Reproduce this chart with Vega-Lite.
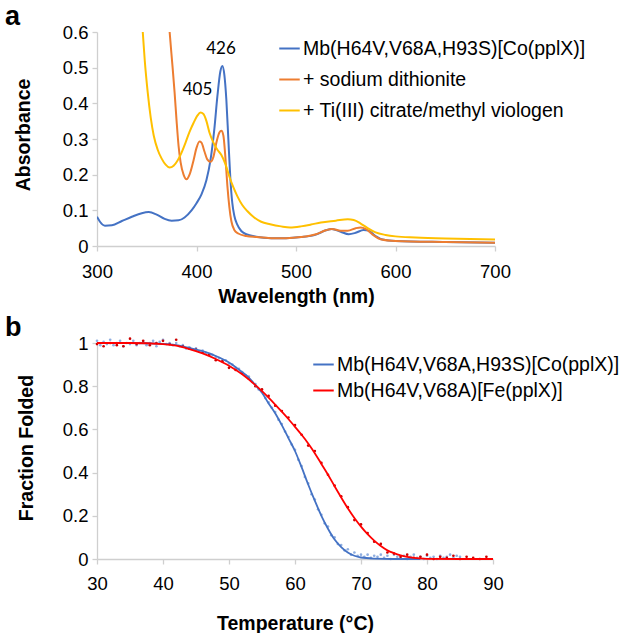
{
"$schema": "https://vega.github.io/schema/vega-lite/v6.json",
"background": "white",
"padding": {"left": 5, "top": 3, "right": 0, "bottom": 0},
"bounds": "flush",
"spacing": 97,
"resolve": {"scale": {"color": "independent"}, "legend": {"color": "independent"}},
"config": {
  "font": "Liberation Sans",
  "view": {"stroke": null},
  "axis": {"grid": false, "domainColor": "#CFCFCF", "tickColor": "#CFCFCF", "domainWidth": 1.3, "tickWidth": 1.3, "tickSize": 5, "labelFlush": false, "labelOverlap": false,
    "labelFont": "Liberation Sans", "labelFontSize": 18.5, "labelColor": "#000",
    "titleFont": "Liberation Sans", "titleFontSize": 19.5, "titleFontWeight": "bold", "titleColor": "#000"},
  "legend": {"title": null, "orient": "none", "symbolType": "stroke", "symbolSize": 420, "symbolStrokeWidth": 2, "labelFont": "Liberation Sans", "labelFontSize": 19.5, "labelColor": "#000", "labelOffset": 2, "padding": 0, "labelLimit": 400}
},
"datasets": {
  "spectra": [
    {"s":"Mb(H64V,V68A,H93S)[Co(pplX)]","w":300,"a":0.082},{"s":"Mb(H64V,V68A,H93S)[Co(pplX)]","w":303,"a":0.068},{"s":"Mb(H64V,V68A,H93S)[Co(pplX)]","w":308,"a":0.057},{"s":"Mb(H64V,V68A,H93S)[Co(pplX)]","w":315,"a":0.058},{"s":"Mb(H64V,V68A,H93S)[Co(pplX)]","w":325,"a":0.07},{"s":"Mb(H64V,V68A,H93S)[Co(pplX)]","w":335,"a":0.082},{"s":"Mb(H64V,V68A,H93S)[Co(pplX)]","w":345,"a":0.092},{"s":"Mb(H64V,V68A,H93S)[Co(pplX)]","w":352,"a":0.095},{"s":"Mb(H64V,V68A,H93S)[Co(pplX)]","w":360,"a":0.088},{"s":"Mb(H64V,V68A,H93S)[Co(pplX)]","w":368,"a":0.076},{"s":"Mb(H64V,V68A,H93S)[Co(pplX)]","w":375,"a":0.071},{"s":"Mb(H64V,V68A,H93S)[Co(pplX)]","w":382,"a":0.072},{"s":"Mb(H64V,V68A,H93S)[Co(pplX)]","w":388,"a":0.08},{"s":"Mb(H64V,V68A,H93S)[Co(pplX)]","w":395,"a":0.1},{"s":"Mb(H64V,V68A,H93S)[Co(pplX)]","w":400,"a":0.12},{"s":"Mb(H64V,V68A,H93S)[Co(pplX)]","w":405,"a":0.145},{"s":"Mb(H64V,V68A,H93S)[Co(pplX)]","w":410,"a":0.185},{"s":"Mb(H64V,V68A,H93S)[Co(pplX)]","w":414,"a":0.24},{"s":"Mb(H64V,V68A,H93S)[Co(pplX)]","w":418,"a":0.33},{"s":"Mb(H64V,V68A,H93S)[Co(pplX)]","w":421,"a":0.42},{"s":"Mb(H64V,V68A,H93S)[Co(pplX)]","w":424,"a":0.49},{"s":"Mb(H64V,V68A,H93S)[Co(pplX)]","w":426,"a":0.505},{"s":"Mb(H64V,V68A,H93S)[Co(pplX)]","w":428,"a":0.48},{"s":"Mb(H64V,V68A,H93S)[Co(pplX)]","w":430,"a":0.41},{"s":"Mb(H64V,V68A,H93S)[Co(pplX)]","w":432,"a":0.3},{"s":"Mb(H64V,V68A,H93S)[Co(pplX)]","w":434,"a":0.19},{"s":"Mb(H64V,V68A,H93S)[Co(pplX)]","w":436,"a":0.12},{"s":"Mb(H64V,V68A,H93S)[Co(pplX)]","w":438,"a":0.085},{"s":"Mb(H64V,V68A,H93S)[Co(pplX)]","w":441,"a":0.06},{"s":"Mb(H64V,V68A,H93S)[Co(pplX)]","w":445,"a":0.042},{"s":"Mb(H64V,V68A,H93S)[Co(pplX)]","w":450,"a":0.033},{"s":"Mb(H64V,V68A,H93S)[Co(pplX)]","w":460,"a":0.026},{"s":"Mb(H64V,V68A,H93S)[Co(pplX)]","w":475,"a":0.022},{"s":"Mb(H64V,V68A,H93S)[Co(pplX)]","w":490,"a":0.022},{"s":"Mb(H64V,V68A,H93S)[Co(pplX)]","w":505,"a":0.025},{"s":"Mb(H64V,V68A,H93S)[Co(pplX)]","w":520,"a":0.032},{"s":"Mb(H64V,V68A,H93S)[Co(pplX)]","w":530,"a":0.044},{"s":"Mb(H64V,V68A,H93S)[Co(pplX)]","w":536,"a":0.048},{"s":"Mb(H64V,V68A,H93S)[Co(pplX)]","w":545,"a":0.04},{"s":"Mb(H64V,V68A,H93S)[Co(pplX)]","w":553,"a":0.033},{"s":"Mb(H64V,V68A,H93S)[Co(pplX)]","w":560,"a":0.037},{"s":"Mb(H64V,V68A,H93S)[Co(pplX)]","w":568,"a":0.045},{"s":"Mb(H64V,V68A,H93S)[Co(pplX)]","w":573,"a":0.043},{"s":"Mb(H64V,V68A,H93S)[Co(pplX)]","w":580,"a":0.028},{"s":"Mb(H64V,V68A,H93S)[Co(pplX)]","w":587,"a":0.018},{"s":"Mb(H64V,V68A,H93S)[Co(pplX)]","w":600,"a":0.014},{"s":"Mb(H64V,V68A,H93S)[Co(pplX)]","w":650,"a":0.011},{"s":"Mb(H64V,V68A,H93S)[Co(pplX)]","w":700,"a":0.009},
    {"s":"+ sodium dithionite","w":365,"a":0.95},{"s":"+ sodium dithionite","w":370,"a":0.72},{"s":"+ sodium dithionite","w":373,"a":0.6},{"s":"+ sodium dithionite","w":376,"a":0.5},{"s":"+ sodium dithionite","w":378,"a":0.43},{"s":"+ sodium dithionite","w":380,"a":0.35},{"s":"+ sodium dithionite","w":382,"a":0.28},{"s":"+ sodium dithionite","w":384,"a":0.235},{"s":"+ sodium dithionite","w":387,"a":0.2},{"s":"+ sodium dithionite","w":390,"a":0.187},{"s":"+ sodium dithionite","w":393,"a":0.2},{"s":"+ sodium dithionite","w":397,"a":0.24},{"s":"+ sodium dithionite","w":400,"a":0.275},{"s":"+ sodium dithionite","w":403,"a":0.293},{"s":"+ sodium dithionite","w":405,"a":0.29},{"s":"+ sodium dithionite","w":408,"a":0.265},{"s":"+ sodium dithionite","w":411,"a":0.242},{"s":"+ sodium dithionite","w":414,"a":0.236},{"s":"+ sodium dithionite","w":417,"a":0.25},{"s":"+ sodium dithionite","w":420,"a":0.29},{"s":"+ sodium dithionite","w":423,"a":0.318},{"s":"+ sodium dithionite","w":425,"a":0.323},{"s":"+ sodium dithionite","w":427,"a":0.31},{"s":"+ sodium dithionite","w":429,"a":0.25},{"s":"+ sodium dithionite","w":431,"a":0.17},{"s":"+ sodium dithionite","w":433,"a":0.11},{"s":"+ sodium dithionite","w":435,"a":0.07},{"s":"+ sodium dithionite","w":438,"a":0.045},{"s":"+ sodium dithionite","w":442,"a":0.035},{"s":"+ sodium dithionite","w":450,"a":0.028},{"s":"+ sodium dithionite","w":460,"a":0.025},{"s":"+ sodium dithionite","w":475,"a":0.022},{"s":"+ sodium dithionite","w":490,"a":0.022},{"s":"+ sodium dithionite","w":505,"a":0.025},{"s":"+ sodium dithionite","w":520,"a":0.033},{"s":"+ sodium dithionite","w":530,"a":0.044},{"s":"+ sodium dithionite","w":536,"a":0.048},{"s":"+ sodium dithionite","w":545,"a":0.043},{"s":"+ sodium dithionite","w":552,"a":0.043},{"s":"+ sodium dithionite","w":560,"a":0.05},{"s":"+ sodium dithionite","w":565,"a":0.052},{"s":"+ sodium dithionite","w":570,"a":0.048},{"s":"+ sodium dithionite","w":577,"a":0.032},{"s":"+ sodium dithionite","w":585,"a":0.019},{"s":"+ sodium dithionite","w":600,"a":0.014},{"s":"+ sodium dithionite","w":650,"a":0.011},{"s":"+ sodium dithionite","w":700,"a":0.009},
    {"s":"+ Ti(III) citrate/methyl viologen","w":343,"a":0.72},{"s":"+ Ti(III) citrate/methyl viologen","w":346,"a":0.6},{"s":"+ Ti(III) citrate/methyl viologen","w":348,"a":0.52},{"s":"+ Ti(III) citrate/methyl viologen","w":351,"a":0.43},{"s":"+ Ti(III) citrate/methyl viologen","w":354,"a":0.36},{"s":"+ Ti(III) citrate/methyl viologen","w":357,"a":0.31},{"s":"+ Ti(III) citrate/methyl viologen","w":361,"a":0.27},{"s":"+ Ti(III) citrate/methyl viologen","w":365,"a":0.245},{"s":"+ Ti(III) citrate/methyl viologen","w":369,"a":0.228},{"s":"+ Ti(III) citrate/methyl viologen","w":373,"a":0.22},{"s":"+ Ti(III) citrate/methyl viologen","w":377,"a":0.225},{"s":"+ Ti(III) citrate/methyl viologen","w":381,"a":0.24},{"s":"+ Ti(III) citrate/methyl viologen","w":385,"a":0.262},{"s":"+ Ti(III) citrate/methyl viologen","w":389,"a":0.29},{"s":"+ Ti(III) citrate/methyl viologen","w":393,"a":0.32},{"s":"+ Ti(III) citrate/methyl viologen","w":397,"a":0.345},{"s":"+ Ti(III) citrate/methyl viologen","w":401,"a":0.366},{"s":"+ Ti(III) citrate/methyl viologen","w":404,"a":0.374},{"s":"+ Ti(III) citrate/methyl viologen","w":407,"a":0.37},{"s":"+ Ti(III) citrate/methyl viologen","w":410,"a":0.35},{"s":"+ Ti(III) citrate/methyl viologen","w":413,"a":0.318},{"s":"+ Ti(III) citrate/methyl viologen","w":417,"a":0.29},{"s":"+ Ti(III) citrate/methyl viologen","w":421,"a":0.27},{"s":"+ Ti(III) citrate/methyl viologen","w":425,"a":0.255},{"s":"+ Ti(III) citrate/methyl viologen","w":429,"a":0.23},{"s":"+ Ti(III) citrate/methyl viologen","w":433,"a":0.195},{"s":"+ Ti(III) citrate/methyl viologen","w":437,"a":0.165},{"s":"+ Ti(III) citrate/methyl viologen","w":441,"a":0.14},{"s":"+ Ti(III) citrate/methyl viologen","w":446,"a":0.115},{"s":"+ Ti(III) citrate/methyl viologen","w":451,"a":0.098},{"s":"+ Ti(III) citrate/methyl viologen","w":458,"a":0.08},{"s":"+ Ti(III) citrate/methyl viologen","w":465,"a":0.068},{"s":"+ Ti(III) citrate/methyl viologen","w":474,"a":0.061},{"s":"+ Ti(III) citrate/methyl viologen","w":485,"a":0.055},{"s":"+ Ti(III) citrate/methyl viologen","w":494,"a":0.052},{"s":"+ Ti(III) citrate/methyl viologen","w":505,"a":0.055},{"s":"+ Ti(III) citrate/methyl viologen","w":515,"a":0.06},{"s":"+ Ti(III) citrate/methyl viologen","w":525,"a":0.066},{"s":"+ Ti(III) citrate/methyl viologen","w":540,"a":0.071},{"s":"+ Ti(III) citrate/methyl viologen","w":552,"a":0.075},{"s":"+ Ti(III) citrate/methyl viologen","w":558,"a":0.073},{"s":"+ Ti(III) citrate/methyl viologen","w":565,"a":0.063},{"s":"+ Ti(III) citrate/methyl viologen","w":572,"a":0.05},{"s":"+ Ti(III) citrate/methyl viologen","w":580,"a":0.038},{"s":"+ Ti(III) citrate/methyl viologen","w":590,"a":0.031},{"s":"+ Ti(III) citrate/methyl viologen","w":600,"a":0.027},{"s":"+ Ti(III) citrate/methyl viologen","w":620,"a":0.024},{"s":"+ Ti(III) citrate/methyl viologen","w":650,"a":0.021},{"s":"+ Ti(III) citrate/methyl viologen","w":700,"a":0.018}
  ],
  "peaks": [{"w":424.6,"a":0.553,"label":"426"},{"w":401,"a":0.437,"label":"405"}],
  "fits": [
    {"s":"Mb(H64V,V68A,H93S)[Co(pplX)]","t":30,"f":1.0},{"s":"Mb(H64V,V68A,H93S)[Co(pplX)]","t":35,"f":1.0},{"s":"Mb(H64V,V68A,H93S)[Co(pplX)]","t":40,"f":0.996},{"s":"Mb(H64V,V68A,H93S)[Co(pplX)]","t":42,"f":0.99},{"s":"Mb(H64V,V68A,H93S)[Co(pplX)]","t":44,"f":0.977},{"s":"Mb(H64V,V68A,H93S)[Co(pplX)]","t":46,"f":0.962},{"s":"Mb(H64V,V68A,H93S)[Co(pplX)]","t":48,"f":0.94},{"s":"Mb(H64V,V68A,H93S)[Co(pplX)]","t":50,"f":0.91},{"s":"Mb(H64V,V68A,H93S)[Co(pplX)]","t":52,"f":0.865},{"s":"Mb(H64V,V68A,H93S)[Co(pplX)]","t":53,"f":0.84},{"s":"Mb(H64V,V68A,H93S)[Co(pplX)]","t":54,"f":0.805},{"s":"Mb(H64V,V68A,H93S)[Co(pplX)]","t":55,"f":0.77},{"s":"Mb(H64V,V68A,H93S)[Co(pplX)]","t":56,"f":0.72},{"s":"Mb(H64V,V68A,H93S)[Co(pplX)]","t":57,"f":0.675},{"s":"Mb(H64V,V68A,H93S)[Co(pplX)]","t":58,"f":0.62},{"s":"Mb(H64V,V68A,H93S)[Co(pplX)]","t":59,"f":0.56},{"s":"Mb(H64V,V68A,H93S)[Co(pplX)]","t":60,"f":0.5},{"s":"Mb(H64V,V68A,H93S)[Co(pplX)]","t":61,"f":0.425},{"s":"Mb(H64V,V68A,H93S)[Co(pplX)]","t":62,"f":0.345},{"s":"Mb(H64V,V68A,H93S)[Co(pplX)]","t":63,"f":0.27},{"s":"Mb(H64V,V68A,H93S)[Co(pplX)]","t":64,"f":0.2},{"s":"Mb(H64V,V68A,H93S)[Co(pplX)]","t":65,"f":0.14},{"s":"Mb(H64V,V68A,H93S)[Co(pplX)]","t":66,"f":0.09},{"s":"Mb(H64V,V68A,H93S)[Co(pplX)]","t":67,"f":0.055},{"s":"Mb(H64V,V68A,H93S)[Co(pplX)]","t":68,"f":0.03},{"s":"Mb(H64V,V68A,H93S)[Co(pplX)]","t":69,"f":0.015},{"s":"Mb(H64V,V68A,H93S)[Co(pplX)]","t":70,"f":0.007},{"s":"Mb(H64V,V68A,H93S)[Co(pplX)]","t":72,"f":0.002},{"s":"Mb(H64V,V68A,H93S)[Co(pplX)]","t":75,"f":0.0},{"s":"Mb(H64V,V68A,H93S)[Co(pplX)]","t":79,"f":0.0},
    {"s":"Mb(H64V,V68A)[Fe(pplX)]","t":30,"f":1.0},{"s":"Mb(H64V,V68A)[Fe(pplX)]","t":35,"f":1.0},{"s":"Mb(H64V,V68A)[Fe(pplX)]","t":40,"f":0.995},{"s":"Mb(H64V,V68A)[Fe(pplX)]","t":42,"f":0.988},{"s":"Mb(H64V,V68A)[Fe(pplX)]","t":44,"f":0.972},{"s":"Mb(H64V,V68A)[Fe(pplX)]","t":46,"f":0.952},{"s":"Mb(H64V,V68A)[Fe(pplX)]","t":48,"f":0.926},{"s":"Mb(H64V,V68A)[Fe(pplX)]","t":50,"f":0.895},{"s":"Mb(H64V,V68A)[Fe(pplX)]","t":52,"f":0.855},{"s":"Mb(H64V,V68A)[Fe(pplX)]","t":54,"f":0.805},{"s":"Mb(H64V,V68A)[Fe(pplX)]","t":55,"f":0.777},{"s":"Mb(H64V,V68A)[Fe(pplX)]","t":56,"f":0.747},{"s":"Mb(H64V,V68A)[Fe(pplX)]","t":57,"f":0.715},{"s":"Mb(H64V,V68A)[Fe(pplX)]","t":58,"f":0.682},{"s":"Mb(H64V,V68A)[Fe(pplX)]","t":59,"f":0.648},{"s":"Mb(H64V,V68A)[Fe(pplX)]","t":60,"f":0.612},{"s":"Mb(H64V,V68A)[Fe(pplX)]","t":61,"f":0.575},{"s":"Mb(H64V,V68A)[Fe(pplX)]","t":62,"f":0.535},{"s":"Mb(H64V,V68A)[Fe(pplX)]","t":63,"f":0.49},{"s":"Mb(H64V,V68A)[Fe(pplX)]","t":64,"f":0.44},{"s":"Mb(H64V,V68A)[Fe(pplX)]","t":65,"f":0.39},{"s":"Mb(H64V,V68A)[Fe(pplX)]","t":66,"f":0.337},{"s":"Mb(H64V,V68A)[Fe(pplX)]","t":67,"f":0.285},{"s":"Mb(H64V,V68A)[Fe(pplX)]","t":68,"f":0.235},{"s":"Mb(H64V,V68A)[Fe(pplX)]","t":69,"f":0.19},{"s":"Mb(H64V,V68A)[Fe(pplX)]","t":70,"f":0.15},{"s":"Mb(H64V,V68A)[Fe(pplX)]","t":71,"f":0.115},{"s":"Mb(H64V,V68A)[Fe(pplX)]","t":72,"f":0.085},{"s":"Mb(H64V,V68A)[Fe(pplX)]","t":73,"f":0.06},{"s":"Mb(H64V,V68A)[Fe(pplX)]","t":74,"f":0.04},{"s":"Mb(H64V,V68A)[Fe(pplX)]","t":75,"f":0.027},{"s":"Mb(H64V,V68A)[Fe(pplX)]","t":76,"f":0.017},{"s":"Mb(H64V,V68A)[Fe(pplX)]","t":77,"f":0.01},{"s":"Mb(H64V,V68A)[Fe(pplX)]","t":78,"f":0.005},{"s":"Mb(H64V,V68A)[Fe(pplX)]","t":80,"f":0.001},{"s":"Mb(H64V,V68A)[Fe(pplX)]","t":85,"f":0.0},{"s":"Mb(H64V,V68A)[Fe(pplX)]","t":90,"f":0.0}
  ],
  "points": [
    {"p":"Co","t":30,"f":1.01},{"p":"Co","t":30.5,"f":0.99},{"p":"Co","t":31,"f":1.005},{"p":"Co","t":31.5,"f":0.995},{"p":"Co","t":32,"f":1.015},{"p":"Co","t":32.5,"f":0.99},{"p":"Co","t":33,"f":1.0},{"p":"Co","t":33.5,"f":1.01},{"p":"Co","t":34,"f":0.985},{"p":"Co","t":34.5,"f":1.0},{"p":"Co","t":35,"f":0.995},{"p":"Co","t":35.5,"f":1.01},{"p":"Co","t":36,"f":0.99},{"p":"Co","t":36.5,"f":1.0},{"p":"Co","t":37,"f":1.005},{"p":"Co","t":37.5,"f":0.99},{"p":"Co","t":38,"f":1.0},{"p":"Co","t":38.5,"f":1.01},{"p":"Co","t":39,"f":0.985},{"p":"Co","t":39.5,"f":1.005},{"p":"Co","t":40,"f":1.015},{"p":"Co","t":40.5,"f":0.995},{"p":"Co","t":41,"f":1.0},{"p":"Co","t":41.5,"f":0.99},{"p":"Co","t":42,"f":1.0},{"p":"Co","t":42.5,"f":0.985},{"p":"Co","t":43,"f":0.99},{"p":"Co","t":43.5,"f":0.975},{"p":"Co","t":44,"f":0.98},{"p":"Co","t":44.5,"f":0.97},{"p":"Co","t":45,"f":0.975},{"p":"Co","t":45.5,"f":0.96},{"p":"Co","t":46,"f":0.965},{"p":"Co","t":46.5,"f":0.955},{"p":"Co","t":47,"f":0.945},{"p":"Co","t":47.5,"f":0.945},{"p":"Co","t":48,"f":0.935},{"p":"Co","t":48.5,"f":0.93},{"p":"Co","t":49,"f":0.92},{"p":"Co","t":49.5,"f":0.92},{"p":"Co","t":50,"f":0.905},{"p":"Co","t":50.5,"f":0.9},{"p":"Co","t":51,"f":0.885},{"p":"Co","t":51.5,"f":0.88},{"p":"Co","t":52,"f":0.865},{"p":"Co","t":52.5,"f":0.85},{"p":"Co","t":53,"f":0.845},{"p":"Co","t":53.5,"f":0.82},{"p":"Co","t":54,"f":0.81},{"p":"Co","t":54.5,"f":0.785},{"p":"Co","t":55,"f":0.775},{"p":"Co","t":55.5,"f":0.745},{"p":"Co","t":56,"f":0.725},{"p":"Co","t":56.5,"f":0.7},{"p":"Co","t":57,"f":0.68},{"p":"Co","t":57.5,"f":0.645},{"p":"Co","t":58,"f":0.625},{"p":"Co","t":58.5,"f":0.59},{"p":"Co","t":59,"f":0.565},{"p":"Co","t":59.5,"f":0.53},{"p":"Co","t":60,"f":0.505},{"p":"Co","t":60.5,"f":0.46},{"p":"Co","t":61,"f":0.43},{"p":"Co","t":61.5,"f":0.38},{"p":"Co","t":62,"f":0.35},{"p":"Co","t":62.5,"f":0.3},{"p":"Co","t":63,"f":0.275},{"p":"Co","t":63.5,"f":0.23},{"p":"Co","t":64,"f":0.205},{"p":"Co","t":64.5,"f":0.165},{"p":"Co","t":65,"f":0.15},{"p":"Co","t":65.5,"f":0.11},{"p":"Co","t":66,"f":0.1},{"p":"Co","t":66.5,"f":0.07},{"p":"Co","t":67,"f":0.065},{"p":"Co","t":67.5,"f":0.04},{"p":"Co","t":68,"f":0.045},{"p":"Co","t":68.5,"f":0.02},{"p":"Co","t":69,"f":0.03},{"p":"Co","t":69.5,"f":0.015},{"p":"Co","t":70,"f":0.02},{"p":"Co","t":70.5,"f":0.01},{"p":"Co","t":71,"f":0.02},{"p":"Co","t":71.5,"f":0.005},{"p":"Co","t":72,"f":0.015},{"p":"Co","t":72.5,"f":0.01},{"p":"Co","t":73,"f":0.02},{"p":"Co","t":73.5,"f":0.005},{"p":"Co","t":74,"f":0.015},{"p":"Co","t":74.5,"f":0.0},{"p":"Co","t":75,"f":0.02},{"p":"Co","t":75.5,"f":0.01},{"p":"Co","t":76,"f":0.005},{"p":"Co","t":76.5,"f":0.015},{"p":"Co","t":77,"f":0.0},{"p":"Co","t":77.5,"f":0.01},{"p":"Co","t":78,"f":0.02},{"p":"Co","t":78.5,"f":0.005},{"p":"Co","t":79,"f":0.01},{"p":"Co","t":79.5,"f":0.0},{"p":"Co","t":80,"f":0.015},{"p":"Co","t":80.5,"f":0.005},{"p":"Co","t":81,"f":0.01},{"p":"Co","t":81.5,"f":0.0},{"p":"Co","t":82,"f":0.015},{"p":"Co","t":82.5,"f":0.005},{"p":"Co","t":83,"f":0.01},{"p":"Co","t":83.5,"f":0.02},{"p":"Co","t":84,"f":0.005},{"p":"Co","t":84.5,"f":0.015},{"p":"Co","t":85,"f":0.01},
    {"p":"Fe","t":30,"f":0.995},{"p":"Fe","t":31,"f":0.985},{"p":"Fe","t":32,"f":1.0},{"p":"Fe","t":33,"f":0.99},{"p":"Fe","t":34,"f":0.985},{"p":"Fe","t":35,"f":1.02},{"p":"Fe","t":36,"f":0.995},{"p":"Fe","t":37,"f":1.01},{"p":"Fe","t":38,"f":0.99},{"p":"Fe","t":39,"f":1.0},{"p":"Fe","t":40,"f":1.01},{"p":"Fe","t":41,"f":0.995},{"p":"Fe","t":42,"f":1.015},{"p":"Fe","t":43,"f":0.985},{"p":"Fe","t":44,"f":0.975},{"p":"Fe","t":45,"f":0.97},{"p":"Fe","t":46,"f":0.955},{"p":"Fe","t":47,"f":0.945},{"p":"Fe","t":48,"f":0.92},{"p":"Fe","t":49,"f":0.915},{"p":"Fe","t":50,"f":0.885},{"p":"Fe","t":51,"f":0.875},{"p":"Fe","t":52,"f":0.86},{"p":"Fe","t":53,"f":0.835},{"p":"Fe","t":54,"f":0.8},{"p":"Fe","t":55,"f":0.785},{"p":"Fe","t":56,"f":0.755},{"p":"Fe","t":57,"f":0.71},{"p":"Fe","t":58,"f":0.685},{"p":"Fe","t":59,"f":0.655},{"p":"Fe","t":60,"f":0.62},{"p":"Fe","t":61,"f":0.575},{"p":"Fe","t":62,"f":0.525},{"p":"Fe","t":63,"f":0.5},{"p":"Fe","t":64,"f":0.445},{"p":"Fe","t":65,"f":0.39},{"p":"Fe","t":66,"f":0.34},{"p":"Fe","t":67,"f":0.29},{"p":"Fe","t":68,"f":0.24},{"p":"Fe","t":69,"f":0.18},{"p":"Fe","t":70,"f":0.16},{"p":"Fe","t":71,"f":0.12},{"p":"Fe","t":72,"f":0.08},{"p":"Fe","t":73,"f":0.07},{"p":"Fe","t":74,"f":0.03},{"p":"Fe","t":75,"f":0.025},{"p":"Fe","t":76,"f":0.01},{"p":"Fe","t":77,"f":0.02},{"p":"Fe","t":78,"f":0.005},{"p":"Fe","t":79,"f":0.01},{"p":"Fe","t":80,"f":0.02},{"p":"Fe","t":81,"f":0.0},{"p":"Fe","t":82,"f":0.01},{"p":"Fe","t":83,"f":0.005},{"p":"Fe","t":84,"f":0.015},{"p":"Fe","t":85,"f":0.0},{"p":"Fe","t":86,"f":0.01},{"p":"Fe","t":87,"f":0.005},{"p":"Fe","t":88,"f":0.0},{"p":"Fe","t":89,"f":0.01}
  ]
},
"vconcat": [
  {
    "width": 398, "height": 214,
    "title": {"text": "a", "anchor": "start", "frame": "group", "dx": -92, "offset": -29, "fontSize": 27, "fontWeight": "bold", "font": "Liberation Sans", "baseline": "alphabetic", "color": "#000"},
    "layer": [
      {"data": {"name": "spectra"},
       "mark": {"type": "line", "clip": true, "strokeWidth": 2, "interpolate": "monotone"},
       "encoding": {
         "x": {"field": "w", "type": "quantitative", "scale": {"domain": [300, 700], "nice": false},
               "axis": {"values": [300, 400, 500, 600, 700], "tickCount": 10, "format": "d", "title": "Wavelength (nm)", "labelPadding": 11, "titlePadding": 7, "labelOverlap": false, "labelFlush": false}},
         "y": {"field": "a", "type": "quantitative", "scale": {"domain": [0, 0.6], "nice": false},
               "axis": {"values": [0, 0.1, 0.2, 0.3, 0.4, 0.5, 0.6], "tickCount": 10, "format": ".1~f", "title": "Absorbance", "labelPadding": 4, "titlePadding": 29, "titleY": 102.5, "labelOverlap": false}},
         "color": {"field": "s", "type": "nominal",
                   "scale": {"domain": ["Mb(H64V,V68A,H93S)[Co(pplX)]", "+ sodium dithionite", "+ Ti(III) citrate/methyl viologen"], "range": ["#4472C4", "#ED7D31", "#FFC000"]},
                   "legend": {"legendX": 181, "legendY": 5, "rowPadding": 10}}
       }},
      {"data": {"name": "peaks"},
       "mark": {"type": "text", "font": "Lato", "fontSize": 17, "color": "#000"},
       "encoding": {
         "x": {"field": "w", "type": "quantitative"},
         "y": {"field": "a", "type": "quantitative"},
         "text": {"field": "label", "type": "nominal"}
       }}
    ]
  },
  {
    "width": 396, "height": 216,
    "title": {"text": "b", "anchor": "start", "frame": "group", "dx": -92, "offset": -29, "fontSize": 27, "fontWeight": "bold", "font": "Liberation Sans", "baseline": "alphabetic", "color": "#000"},
    "layer": [
      {"data": {"name": "points"},
       "mark": {"type": "circle", "size": 7, "opacity": 1},
       "encoding": {
         "x": {"field": "t", "type": "quantitative", "scale": {"domain": [30, 90], "nice": false},
               "axis": {"values": [30, 40, 50, 60, 70, 80, 90], "tickCount": 10, "format": "d", "title": "Temperature (°C)", "labelPadding": 10, "titlePadding": 22, "labelOverlap": false, "labelFlush": false}},
         "y": {"field": "f", "type": "quantitative", "scale": {"domain": [0, 1], "nice": false},
               "axis": {"values": [0, 0.2, 0.4, 0.6, 0.8, 1], "tickCount": 10, "format": ".1~f", "title": "Fraction Folded", "labelPadding": 4, "titlePadding": 26, "titleY": 104.5, "labelOverlap": false}},
         "fill": {"field": "p", "type": "nominal", "scale": {"domain": ["Co", "Fe"], "range": ["#8FAEE0", "#CC0000"]}, "legend": null}
       }},
      {"data": {"name": "fits"},
       "mark": {"type": "line", "strokeWidth": 1.8, "interpolate": "monotone"},
       "encoding": {
         "x": {"field": "t", "type": "quantitative"},
         "y": {"field": "f", "type": "quantitative"},
         "color": {"field": "s", "type": "nominal",
                   "scale": {"domain": ["Mb(H64V,V68A,H93S)[Co(pplX)]", "Mb(H64V,V68A)[Fe(pplX)]"], "range": ["#4472C4", "#FF0000"]},
                   "legend": {"legendX": 215, "legendY": 10, "rowPadding": 5}}
       }}
    ]
  }
]
}
